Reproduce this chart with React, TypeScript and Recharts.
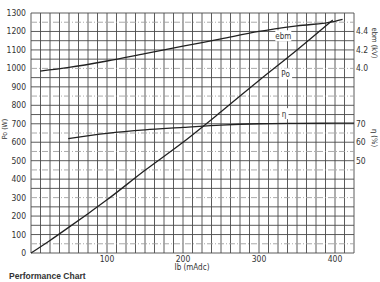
import React from "react";
import {
  LineChart,
  Line,
  XAxis,
  YAxis,
  ReferenceLine,
  ReferenceDot,
} from "recharts";

// x axis: beam current Ib (mAdc)
const ibTicks = [100, 200, 300, 400];
// left axis: output power Po (W)
const poTicks = [0, 100, 200, 300, 400, 500, 600, 700, 800, 900, 1000, 1100, 1200, 1300];
// right axes
const ebmTicks = [4.0, 4.2, 4.4];
const etaTicks = [50, 60, 70];

// Po curve
const ibPo = [0, 25, 50, 75, 100, 150, 200, 250, 300, 350, 397];
const poW = [0, 68, 140, 213, 288, 448, 600, 765, 935, 1100, 1262];

// ebm curve
const ibEbm = [12, 50, 100, 150, 200, 250, 300, 350, 400, 410];
const ebmKv = [3.97, 4.01, 4.08, 4.16, 4.24, 4.32, 4.4, 4.46, 4.51, 4.53];

// efficiency curve
const ibEta = [49, 100, 150, 200, 250, 300, 350, 400, 425];
const etaPct = [62, 64.8, 66.7, 68, 69.3, 70, 70.2, 70.3, 70.3];

// grid lines drawn dash-dot in the sheet
const dashedRows = [50, 300, 450, 550, 650, 850, 1000, 1250];

const poData = ibPo.map((ib, i) => ({ ib, po: poW[i] }));
const ebmData = ibEbm.map((ib, i) => ({ ib, ebm: ebmKv[i] }));
const etaData = ibEta.map((ib, i) => ({ ib, eta: etaPct[i] }));

const gridCols = Array.from({ length: 35 }, (_, i) => i * 12.5);
const allRows = Array.from({ length: 27 }, (_, i) => i * 50);
const solidRows = allRows.filter((v) => !dashedRows.includes(v));

const FONT = "'Liberation Sans Narrow', 'DejaVu Sans Condensed', Arial, sans-serif";
const INK = "#222";
const GRID = "#4a4a4a";
const tickStyle = { fill: "#333", fontSize: 8.5, fontFamily: FONT };

const tag = (text: string, w: number) => (props: any) => {
  const { cx, cy } = props;
  return (
    <g>
      <rect x={cx - w / 2} y={cy - 6} width={w} height={11} fill="#fff" />
      <text x={cx} y={cy + 3} textAnchor="middle" fontSize={8} fontFamily={FONT} fill="#333">
        {text}
      </text>
    </g>
  );
};

export default function App() {
  return (
    <div
      style={{
        position: "absolute",
        left: 0,
        top: 0,
        width: 380,
        height: 282,
        background: "#fff",
        overflow: "hidden",
      }}
    >
      <LineChart width={380} height={282} margin={{ top: 13, right: 0, left: 0, bottom: 9 }}>
        <XAxis
          dataKey="ib"
          type="number"
          domain={[0, 425]}
          ticks={ibTicks}
          allowDuplicatedCategory={false}
          axisLine={false}
          tickLine={false}
          tickSize={2}
          tickMargin={1}
          height={20}
          tick={tickStyle}
        />
        <YAxis
          yAxisId="po"
          type="number"
          domain={[0, 1300]}
          ticks={poTicks}
          width={31}
          axisLine={false}
          tickLine={false}
          tickSize={3}
          tickMargin={2}
          tick={tickStyle}
        />
        <YAxis
          yAxisId="ebm"
          orientation="right"
          type="number"
          domain={[2.0, 4.6]}
          ticks={ebmTicks}
          width={1}
          axisLine={false}
          tickLine={false}
          tickSize={1}
          tickMargin={1}
          tickFormatter={(v: number) => v.toFixed(1)}
          tick={tickStyle}
        />
        <YAxis
          yAxisId="eta"
          orientation="right"
          type="number"
          domain={[0, 130]}
          ticks={etaTicks}
          width={25}
          axisLine={false}
          tickLine={false}
          tickSize={1}
          tickMargin={0}
          tick={tickStyle}
        />
        {gridCols.map((v) => (
          <ReferenceLine
            key={`c${v}`}
            yAxisId="po"
            x={v}
            stroke={GRID}
            strokeWidth={0.9}
          />
        ))}
        {solidRows.map((v) => (
          <ReferenceLine
            key={`r${v}`}
            yAxisId="po"
            y={v}
            stroke={GRID}
            strokeWidth={0.9}
          />
        ))}
        {dashedRows.map((v) => (
          <ReferenceLine
            key={`d${v}`}
            yAxisId="po"
            y={v}
            stroke="#a0a0a0"
            strokeWidth={0.9}
            strokeDasharray="6 2 1 2"
          />
        ))}
        <Line
          yAxisId="po"
          data={poData}
          dataKey="po"
          type="monotone"
          stroke={INK}
          strokeWidth={1.3}
          dot={false}
          isAnimationActive={false}
        />
        <Line
          yAxisId="ebm"
          data={ebmData}
          dataKey="ebm"
          type="monotone"
          stroke={INK}
          strokeWidth={1.3}
          dot={false}
          isAnimationActive={false}
        />
        <Line
          yAxisId="eta"
          data={etaData}
          dataKey="eta"
          type="monotone"
          stroke={INK}
          strokeWidth={1.3}
          dot={false}
          isAnimationActive={false}
        />
        <ReferenceDot yAxisId="po" x={332} y={1174} r={0} shape={tag("ebm", 16)} />
        <ReferenceDot yAxisId="po" x={335} y={967} r={0} shape={tag("Po", 13)} />
        <ReferenceDot yAxisId="po" x={333} y={752} r={0} shape={tag("η", 9)} />
      </LineChart>
      <svg
        width={380}
        height={282}
        style={{ position: "absolute", left: 0, top: 0, pointerEvents: "none" }}
      >
        <text
          transform="translate(7,129) rotate(-90)"
          textAnchor="middle"
          fontSize={7}
          fontFamily={FONT}
          fill="#333"
        >
          Po (W)
        </text>
        <text
          transform="translate(372,43) rotate(90)"
          textAnchor="middle"
          fontSize={7.5}
          fontFamily={FONT}
          fill="#333"
        >
          ebm (kV)
        </text>
        <text
          transform="translate(372,138) rotate(90)"
          textAnchor="middle"
          fontSize={7.5}
          fontFamily={FONT}
          fill="#333"
        >
          η (%)
        </text>
        <text x={192} y={270} textAnchor="middle" fontSize={8} fontFamily={FONT} fill="#333">
          Ib (mAdc)
        </text>
        <text
          x={9}
          y={279}
          fontSize={8.5}
          fontWeight="bold"
          fontFamily="Arial, 'Liberation Sans', sans-serif"
          fill="#333"
        >
          Performance Chart
        </text>
      </svg>
    </div>
  );
}
